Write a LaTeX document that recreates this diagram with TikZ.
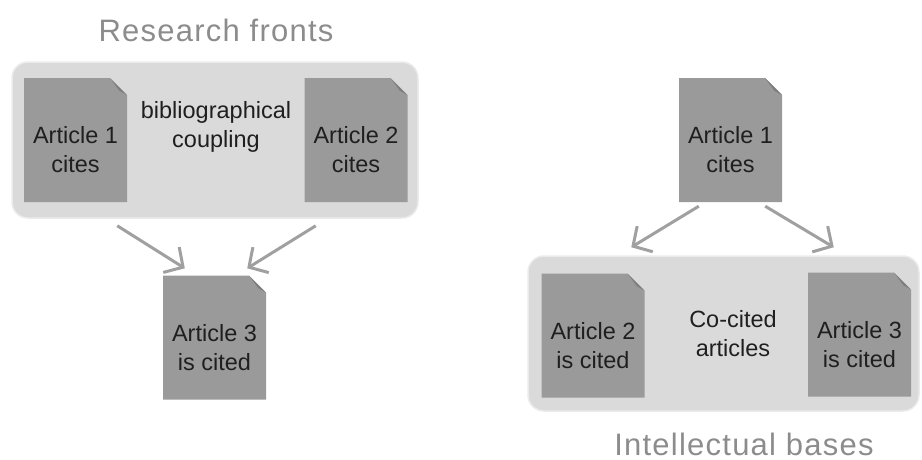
\documentclass[tikz,border=0pt]{standalone}
\usepackage{fontspec}
\setmainfont{Liberation Sans}
\usetikzlibrary{calc,arrows.meta}
\definecolor{boxgray}{HTML}{DADADA}
\definecolor{docgray}{HTML}{9A9A9A}
\definecolor{foldgray}{HTML}{7E7E7E}
\definecolor{titlegray}{HTML}{8C8C8C}
\definecolor{arrowgray}{HTML}{A0A0A0}
\newcommand{\ear}{17pt}
\tikzset{
  docnode/.style={rectangle, minimum width=103pt, minimum height=124pt, inner sep=0pt,
    path picture={
      \fill[docgray] (path picture bounding box.south west) -- (path picture bounding box.north west)
        -- ($(path picture bounding box.north east)+(-\ear,0pt)$)
        -- ($(path picture bounding box.north east)+(0pt,-\ear)$)
        -- (path picture bounding box.south east) -- cycle;
      \fill[foldgray] ($(path picture bounding box.north east)+(-\ear,0pt)$)
        -- ($(path picture bounding box.north east)+(0pt,-\ear)$)
        -- ($(path picture bounding box.north east)+(-0.45*\ear,-0.75*\ear)$) -- cycle;}},
  doctext/.style={font=\fontsize{23.5}{29}\selectfont, align=center, text=black!88, inner sep=0pt},
  titletext/.style={font=\fontsize{31}{36}\selectfont\addfontfeature{LetterSpace=4}, text=titlegray, inner sep=0pt, anchor=base},
  groupbox/.style={rectangle, rounded corners=16pt, fill=boxgray, draw=boxgray!55,
    line width=1.5pt, minimum width=406pt, minimum height=156pt},
  arr/.style={draw=arrowgray, line width=3pt, -{Straight Barb[length=14pt,width=30pt]}}
}
\begin{document}
\begin{tikzpicture}[x=1pt,y=-1pt]
\useasboundingbox (0,0) rectangle (922,459);
% research fronts
\node[groupbox] (frontbox) at (215,140) {};
\node[titletext] (fronttitle) at (216,41) {Research fronts};
\node[docnode, label={[doctext,yshift=-10pt]center:{Article 1\\cites}}] (docA1) at (75.5,140) {};
\node[docnode, label={[doctext,yshift=-10pt]center:{Article 2\\cites}}] (docA2) at (356,140) {};
\node[doctext] (coupling) at (216,127) {bibliographical\\coupling};
\node[docnode, label={[doctext,yshift=-10pt]center:{Article 3\\is cited}}] (docA3) at (214.5,337.5) {};
\draw[arr] ($(frontbox.south west)+(106,7)$) -- ($(docA3.north west)+(22,-7)$);
\draw[arr] ($(frontbox.south east)+(-103,7)$) -- ($(docA3.north east)+(-19,-7)$);
% intellectual bases
\node[docnode, label={[doctext,yshift=-10pt]center:{Article 1\\cites}}] (docB1) at (730.5,140) {};
\node[groupbox, minimum width=391pt, minimum height=155pt] (basebox) at (723.5,333.5) {};
\node[docnode, label={[doctext,yshift=-10pt]center:{Article 2\\is cited}}] (docB2) at (593,335.5) {};
\node[docnode, label={[doctext,yshift=-10pt]center:{Article 3\\is cited}}] (docB3) at (859.5,334.5) {};
\node[doctext] (cocited) at (733,334) {Co-cited\\articles};
\node[titletext] (basetitle) at (744,455) {Intellectual bases};
\draw[arr] ($(docB1.south west)+(20,4)$) -- ($(basebox.north west)+(104,-8)$);
\draw[arr] ($(docB1.south east)+(-17,4)$) -- ($(basebox.north east)+(-86,-8)$);
\end{tikzpicture}
\end{document}
